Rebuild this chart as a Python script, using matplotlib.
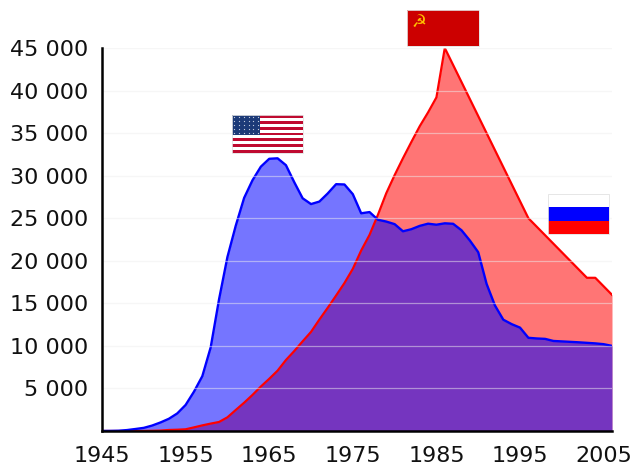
import matplotlib
matplotlib.use("Agg")
import matplotlib.pyplot as plt
from matplotlib.patches import Rectangle

years = list(range(1945, 2007))
usa = [6, 11, 32, 110, 235, 369, 640, 1005, 1436, 2063, 3057, 4618, 6444, 9822, 15468, 20434,
       24126, 27387, 29459, 31056, 31982, 32040, 31233, 29224, 27342, 26662, 26956, 27912, 28999, 28965,
       27826, 25579, 25722, 24826, 24605, 24304, 23464, 23708, 24099, 24357, 24237, 24401, 24344, 23586, 22380,
       21004, 17287, 14747, 13076, 12555, 12144, 10950, 10871, 10824, 10577, 10527, 10475, 10421, 10358, 10295,
       10200, 10000]
ussr = [0, 0, 0, 0, 1, 5, 25, 50, 120, 150, 200, 426, 660, 869, 1060, 1605,
        2471, 3322, 4238, 5221, 6129, 7089, 8339, 9399, 10538, 11643, 13092, 14478, 15915, 17385,
        19055, 21205, 23044, 25393, 27935, 30062, 32049, 33952, 35804, 37431, 39197, 45000, 43000, 41000, 39000,
        37000, 35000, 33000, 31000, 29000, 27000, 25000, 24000, 23000, 22000, 21000, 20000, 19000, 18000, 18000,
        17000, 16000]
y_ticks = [5000, 10000, 15000, 20000, 25000, 30000, 35000, 40000, 45000]
x_ticks = [1945, 1955, 1965, 1975, 1985, 1995, 2005]

W, H = 632, 466


def pixel_axes(fig, x0, y0, x1, y1):
    # pixel box measured from the top left of the picture
    ax = fig.add_axes([x0 / W, 1 - y1 / H, (x1 - x0) / W, (y1 - y0) / H])
    ax.set_xlim(0, 1)
    ax.set_ylim(0, 1)
    ax.axis("off")
    return ax


def stripes(ax, colors):
    n = len(colors)
    for i, c in enumerate(colors):
        ax.add_patch(Rectangle((0, 1 - (i + 1) / n), 1, 1 / n, fc=c, ec="none"))


def flag_edge(ax):
    ax.add_patch(Rectangle((0, 0), 1, 1, fill=False, ec="#e2e2e2", lw=0.6, zorder=5, clip_on=False))


fig = plt.figure(figsize=(6.32, 4.66), dpi=100)
ax = fig.add_axes([102 / W, 1 - 431 / H, 510 / W, 383 / H])
ax.set_xlim(1945, 2006)
ax.set_ylim(0, 45000)

ax.fill_between(years, ussr, color="#ff0000", alpha=0.54, lw=0, zorder=2)
ax.fill_between(years, usa, color="#0000ff", alpha=0.54, lw=0, zorder=3)
ax.plot(years, ussr, color="#ff0000", lw=1.6, zorder=4)
ax.plot(years, usa, color="#0000ff", lw=1.7, zorder=5)
for v in y_ticks:
    ax.axhline(v, color="#eeeeee", lw=0.9, alpha=0.5, zorder=6)

for s in ("top", "right"):
    ax.spines[s].set_visible(False)
for s in ("left", "bottom"):
    ax.spines[s].set_linewidth(1.8)
    ax.spines[s].set_zorder(7)
ax.set_xticks(x_ticks)
ax.set_yticks(y_ticks)
ax.set_yticklabels([f"{v:,}".replace(",", " ") for v in y_ticks])
ax.tick_params(length=0, labelsize=16, colors="#111111")
ax.tick_params(axis="x", pad=11)
ax.tick_params(axis="y", pad=10)

# USA
us = pixel_axes(fig, 232, 115, 303, 153)
stripes(us, ["#bf0a30", "#ffffff"] * 6 + ["#bf0a30"])
us.add_patch(Rectangle((0, 6 / 13), 0.4, 7 / 13, fc="#1c3a78", ec="none", zorder=2))
for row in range(5):
    for col in range(6):
        us.plot((col + 0.5) * 0.4 / 6, 6 / 13 + (row + 0.5) * 7 / 13 / 5, ".", color="#c8d0e0", ms=1.8, mew=0, zorder=3)
flag_edge(us)

# USSR
su = pixel_axes(fig, 407, 10, 479, 46)
stripes(su, ["#cc0000"])
su.text(0.17, 0.68, "\u262d", color="#ffc000", fontsize=12, ha="center", va="center")
flag_edge(su)

# Russia
ru = pixel_axes(fig, 548, 194, 609, 234)
stripes(ru, ["#ffffff", "#0000ff", "#ff0000"])
flag_edge(ru)

fig.savefig("out.png", dpi=100)
